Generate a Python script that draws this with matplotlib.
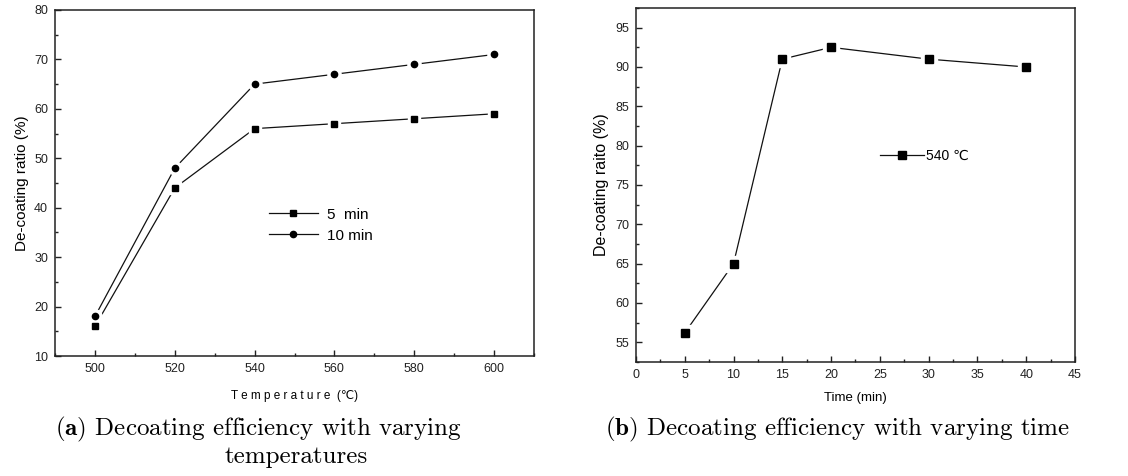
import matplotlib
matplotlib.use("Agg")
import matplotlib.pyplot as plt
from matplotlib.ticker import MultipleLocator
from matplotlib.lines import Line2D

# ---- data ----
temperatures = [500, 520, 540, 560, 580, 600]
ratio_5min = [16, 44, 56, 57, 58, 59]
ratio_10min = [18, 48, 65, 67, 69, 71]

times = [5, 10, 15, 20, 30, 40]
ratio_540C = [56.2, 65, 91, 92.5, 91, 90]

SANS = ['Liberation Sans', 'DejaVu Sans']
plt.rcParams['font.family'] = SANS
plt.rcParams['mathtext.fontset'] = 'cm'

fig = plt.figure(figsize=(11.28, 4.76), dpi=100)
axL = fig.add_axes([0.0488, 0.2521, 0.4246, 0.7269])
axR = fig.add_axes([0.5638, 0.2395, 0.3892, 0.7437])


def style(ax):
    for s in ax.spines.values():
        s.set_linewidth(1.1)
        s.set_color('#222222')
    ax.tick_params(which='both', direction='in', top=False, right=False,
                   labelsize=9, colors='#222222', pad=5)
    ax.tick_params(which='major', length=4, width=1)
    ax.tick_params(which='minor', length=2, width=1)


def gapped(ax, x, y, marker, ms, label):
    ax.plot(x, y, '-', color='#111111', lw=0.9, zorder=1)
    ax.plot(x, y, ls='none', marker=marker, ms=ms + 5, color='white',
            mec='white', zorder=2)
    ax.plot(x, y, ls='none', marker=marker, ms=ms, color='black',
            mec='black', zorder=3)
    return Line2D([], [], color='#111111', lw=0.9, marker=marker, ms=ms,
                  mfc='black', mec='black', label=label)


# ---- left panel ----
h1 = gapped(axL, temperatures, ratio_5min, 's', 4.0, '5  min')
h2 = gapped(axL, temperatures, ratio_10min, 'o', 4.5, '10 min')
axL.set_xlim(490, 610)
axL.set_ylim(10, 80)
axL.xaxis.set_major_locator(MultipleLocator(20))
axL.xaxis.set_minor_locator(MultipleLocator(10))
axL.yaxis.set_major_locator(MultipleLocator(10))
axL.yaxis.set_minor_locator(MultipleLocator(5))
style(axL)
axL.set_xlabel('T e m p e r a t u r e  (℃)', fontsize=8.5, labelpad=11)
axL.set_ylabel('De-coating ratio (%)', fontsize=11, labelpad=4)
axL.legend(handles=[h1, h2], loc='center left', bbox_to_anchor=(0.43, 0.378),
           frameon=False, fontsize=11, handlelength=3.2, handletextpad=0.6,
           labelspacing=0.45, borderpad=0)

# ---- right panel ----
h3 = gapped(axR, times, ratio_540C, 's', 6.0, '540 ℃')
axR.set_xlim(0, 45)
axR.set_ylim(52.5, 97.5)
axR.xaxis.set_major_locator(MultipleLocator(5))
axR.xaxis.set_minor_locator(MultipleLocator(2.5))
axR.yaxis.set_major_locator(MultipleLocator(5))
axR.yaxis.set_minor_locator(MultipleLocator(2.5))
style(axR)
axR.set_xlabel('Time (min)', fontsize=9.5, labelpad=8)
axR.set_ylabel('De-coating raito (%)', fontsize=11.5, labelpad=4)
axR.legend(handles=[h3], loc='center left', bbox_to_anchor=(0.54, 0.582),
           frameon=False, fontsize=10, handlelength=3.2, handletextpad=0.1,
           borderpad=0)

# ---- captions ----
cap = dict(fontsize=18, family=['cmr10', 'DejaVu Serif'], va='center')
fig.text(55 / 1128, 1 - 429 / 476,
         r'$\mathbf{(a)}$ Decoating efficiency with varying', ha='left', **cap)
fig.text(296 / 1128, 1 - 457 / 476, 'temperatures', ha='center', **cap)
fig.text(838 / 1128, 1 - 429 / 476,
         r'$\mathbf{(b)}$ Decoating efficiency with varying time', ha='center', **cap)

fig.savefig('out.png', dpi=100)
